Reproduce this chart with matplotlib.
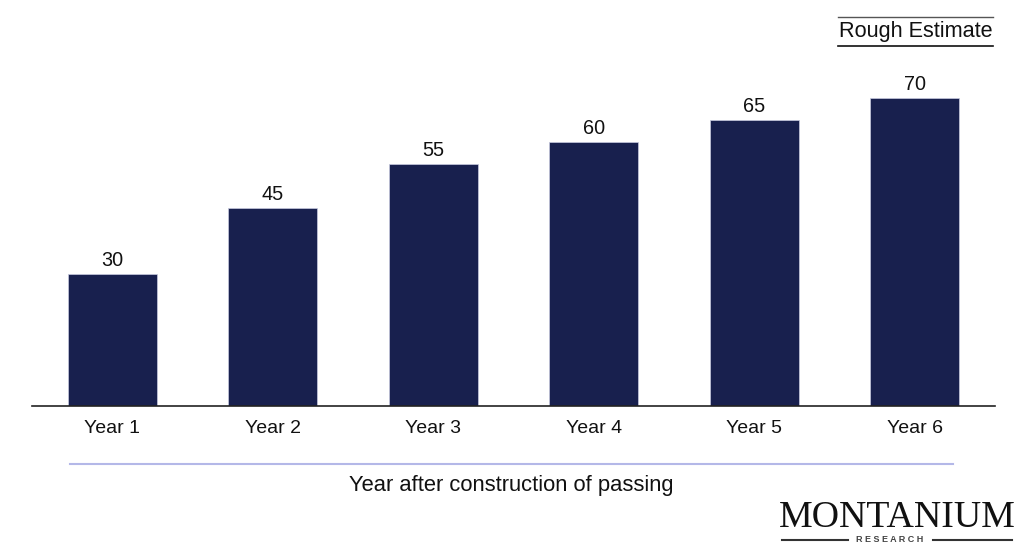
import matplotlib
matplotlib.use("Agg")
import matplotlib.pyplot as plt
from matplotlib.lines import Line2D

categories = ["Year 1", "Year 2", "Year 3", "Year 4", "Year 5", "Year 6"]
values = [30, 45, 55, 60, 65, 70]

BAR_COLOR = "#18204e"
W, H = 1024, 553

plt.rcParams["font.family"] = ["Liberation Sans", "DejaVu Sans"]

fig = plt.figure(figsize=(W / 100, H / 100), dpi=100)
ax = fig.add_axes([32 / W, (H - 406) / H, 963 / W, 352 / H])

x = range(len(categories))
bars = ax.bar(x, values, width=0.555, color=BAR_COLOR, edgecolor="#c8cbe0", linewidth=0.5)
for b, v in zip(bars, values):
    ax.text(b.get_x() + b.get_width() / 2, v + 1.0, f"{v}", ha="center", va="bottom",
            fontsize=14.3, color="#111111")

ax.set_xlim(-0.5, 5.5)
ax.set_ylim(0, 80)
ax.set_xticks(list(x))
ax.set_xticklabels(categories, fontsize=14, color="#111111")
ax.tick_params(axis="x", length=0, pad=10)
ax.set_yticks([])
for s in ["top", "left", "right"]:
    ax.spines[s].set_visible(False)
ax.spines["bottom"].set_color("#222222")
ax.spines["bottom"].set_linewidth(1.2)


def px(xp, yp):
    return xp / W, 1 - yp / H


# separator line and axis title
fig.add_artist(Line2D([70 / W, 953 / W], [1 - 464 / H] * 2, color="#b4b8e8", lw=1.5))
fig.text(*px(511, 486), "Year after construction of passing", ha="center", va="center",
         fontsize=15.8, color="#111111")

# "Rough Estimate" box
fig.add_artist(Line2D([838 / W, 993 / W], [1 - 17 / H] * 2, color="#555555", lw=1))
fig.add_artist(Line2D([838 / W, 993 / W], [1 - 46 / H] * 2, color="#111111", lw=1.2))
fig.text(*px(915.5, 32), "Rough Estimate", ha="center", va="center", fontsize=15.6, color="#111111")

# logo
fig.text(*px(897, 518), "MONTANIUM", ha="center", va="center", fontsize=27.3,
         family=["Liberation Serif", "DejaVu Serif"], color="#111111")
fig.text(*px(890, 540), "R E S E A R C H", ha="center", va="center", fontsize=6.5,
         color="#444444", fontweight="bold")
fig.add_artist(Line2D([782 / W, 848 / W], [1 - 540 / H] * 2, color="#333333", lw=1.5))
fig.add_artist(Line2D([933 / W, 1012 / W], [1 - 540 / H] * 2, color="#333333", lw=1.5))

fig.savefig("out.png", dpi=100)
